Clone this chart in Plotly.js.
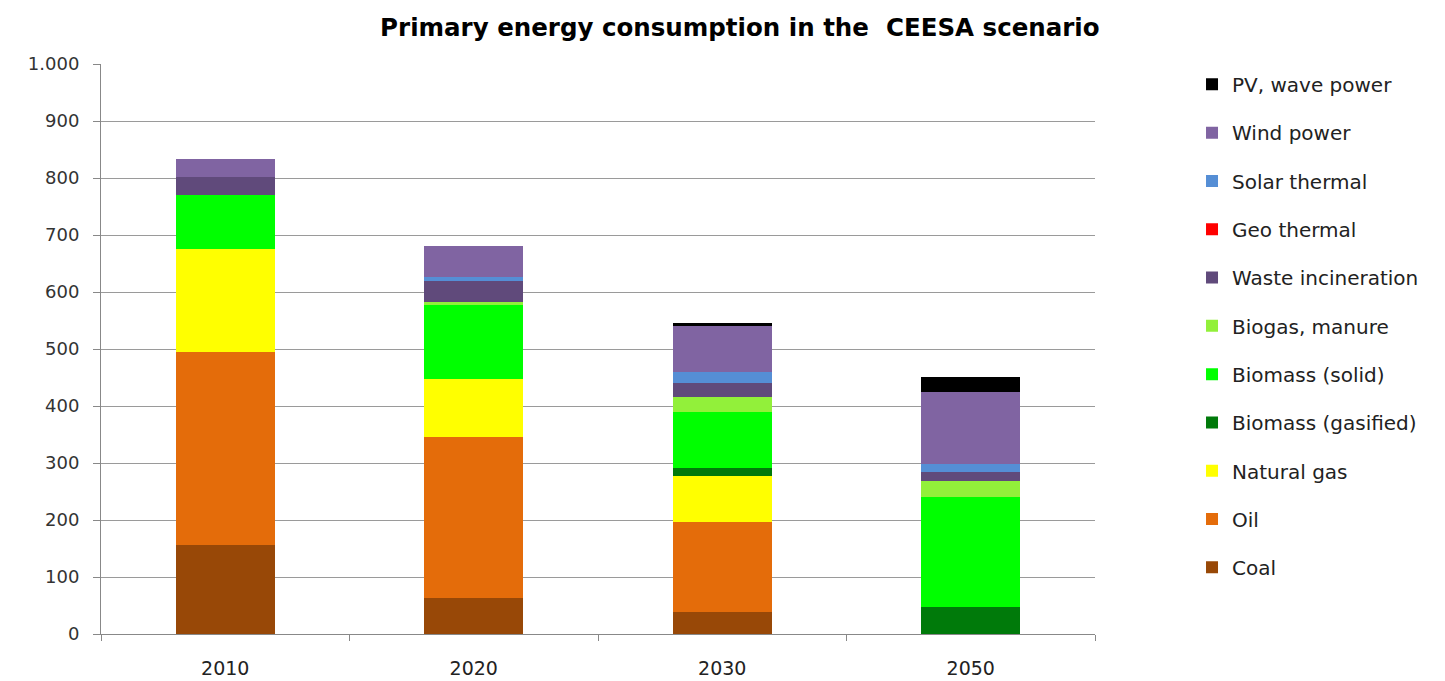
<!DOCTYPE html>
<html>
<head>
<meta charset="utf-8">
<script src="https://cdn.plot.ly/plotly-3.0.1.min.js"></script>
<style>html,body{margin:0;padding:0;background:#fff;}#chart{width:1445px;height:681px;}</style>
</head>
<body>
<div id="chart"></div>
<script>
const years = ["2010", "2020", "2030", "2050"];
const coal = [157, 63, 38, 0];
const oil = [338, 283, 159, 0];
const naturalGas = [180, 101, 81, 0];
const biomassGasified = [0, 0, 14, 48];
const biomassSolid = [95, 130, 98, 193];
const biogasManure = [0, 6, 26, 28];
const wasteIncineration = [32, 37, 24, 15];
const geoThermal = [0, 0, 0, 0];
const solarThermal = [0, 7, 19, 14];
const windPower = [31, 54, 82, 127];
const pvWave = [0, 0, 5, 26];

const seriesNames = ["Coal", "Oil", "Natural gas", "Biomass (gasified)", "Biomass (solid)", "Biogas, manure", "Waste incineration", "Geo thermal", "Solar thermal", "Wind power", "PV, wave power"];
const seriesValues = [coal, oil, naturalGas, biomassGasified, biomassSolid, biogasManure, wasteIncineration, geoThermal, solarThermal, windPower, pvWave];
const seriesColors = ["#984807", "#E46C0A", "#FFFF00", "#007A0A", "#00FF00", "#92F03A", "#604A7B", "#FF0000", "#558ED5", "#8064A2", "#000000"];

const traces = seriesNames.map((name, i) => ({
  type: "bar",
  name: name,
  x: years,
  y: seriesValues[i],
  marker: {color: seriesColors[i], line: {width: 0}},
  legendgroup: "g" + i,
  legendrank: 100 - i,
  hovertemplate: name + ": %{y}<extra></extra>"
}));

const font = "'DejaVu Sans', sans-serif";
const layout = {
  width: 1445,
  height: 681,
  barmode: "stack",
  bargap: 0.6,
  separators: ",.",
  paper_bgcolor: "#ffffff",
  plot_bgcolor: "#ffffff",
  margin: {l: 101, r: 350, t: 64, b: 47},
  font: {family: font, color: "#222"},
  title: {
    text: "<b>Primary energy consumption in the  CEESA scenario</b>",
    font: {family: font, size: 24.5, color: "#000"},
    x: 0.512, xanchor: "center", y: 0.96, yanchor: "middle", xref: "container"
  },
  xaxis: {
    type: "category",
    tickson: "boundaries",
    ticks: "outside",
    ticklen: 6,
    tickcolor: "#888",
    showline: true,
    linecolor: "#888",
    linewidth: 1,
    showgrid: false,
    ticklabelstandoff: 17,
    tickfont: {family: font, size: 19, color: "#222"}
  },
  yaxis: {
    range: [0, 1000],
    dtick: 100,
    tick0: 0,
    tickformat: ",d",
    ticks: "outside",
    ticklen: 7,
    tickcolor: "#888",
    showline: true,
    linecolor: "#888",
    linewidth: 1,
    showgrid: true,
    gridcolor: "#9a9a9a",
    gridwidth: 1,
    zeroline: false,
    ticklabelstandoff: 10,
    tickfont: {family: font, size: 18, color: "#333"}
  },
  legend: {
    x: 1.0976, xanchor: "left",
    y: 0.9985, yanchor: "top",
    traceorder: "grouped",
    tracegroupgap: 19.3,
    itemwidth: 30,
    maxheight: 681,
    font: {family: font, size: 20, color: "#222"},
    bgcolor: "rgba(0,0,0,0)"
  },
  showlegend: true
};

Plotly.newPlot("chart", traces, layout, {displayModeBar: false, staticPlot: true});
</script>
</body>
</html>
